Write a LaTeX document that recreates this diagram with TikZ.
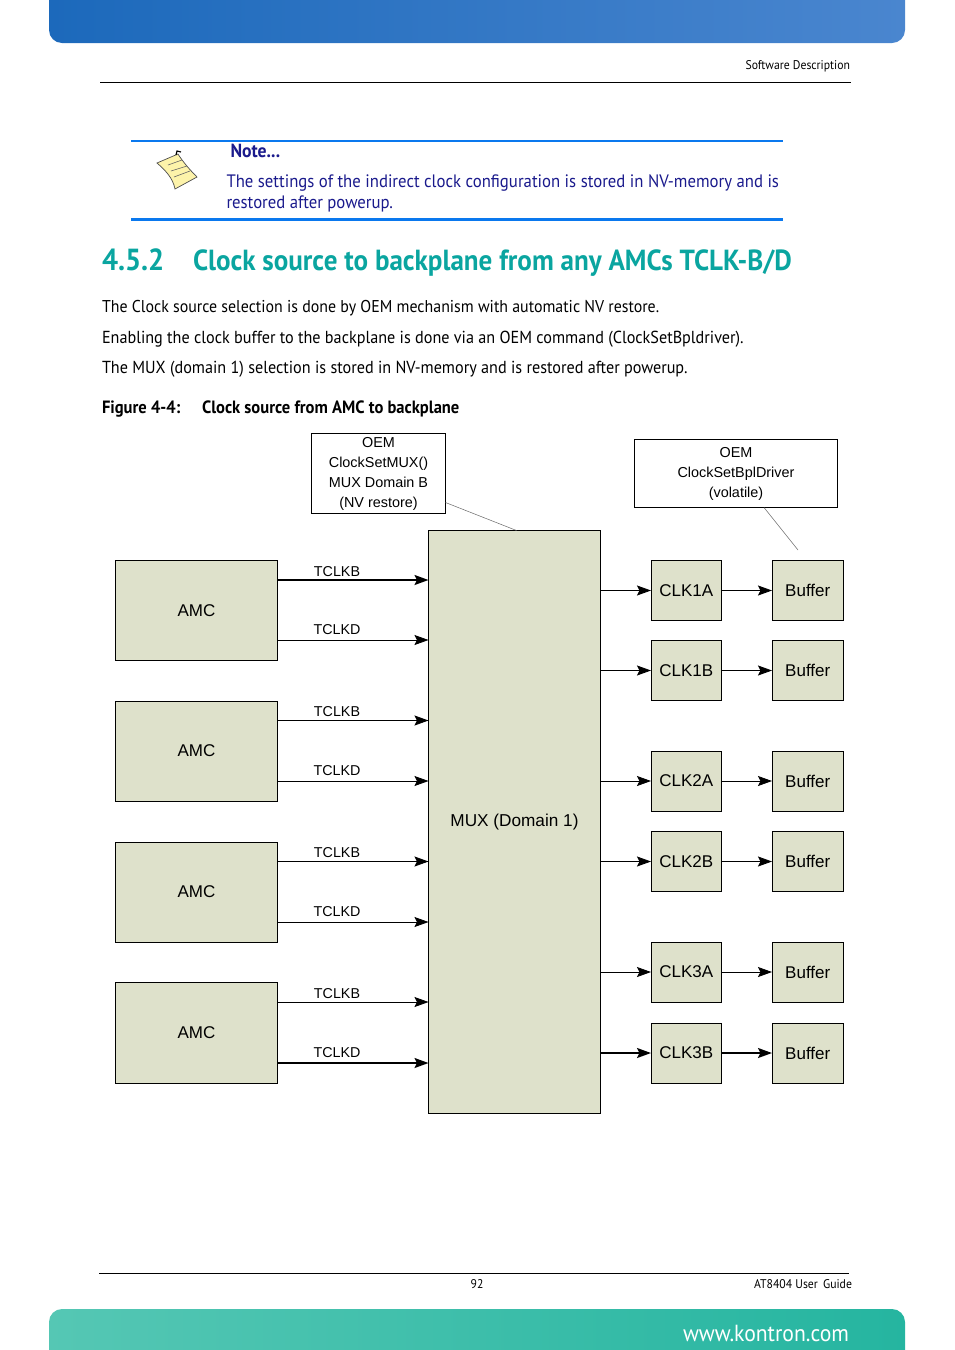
\documentclass[tikz,border=0pt]{standalone}
\usepackage{fontspec}
\setmainfont{PT Sans}[FakeStretch=0.93]
\newfontfamily\arialfont{Liberation Sans}
\usetikzlibrary{arrows.meta}
\usetikzlibrary{positioning}

\definecolor{boxfill}{HTML}{DEE1CB}
\definecolor{notenavy}{HTML}{1A1A8C}
\definecolor{noterule}{HTML}{0A78EE}
\definecolor{headteal}{HTML}{0AA5A0}
\definecolor{topL}{HTML}{1C69BB}
\definecolor{topR}{HTML}{4A86CF}
\definecolor{lowL}{HTML}{55C7B4}
\definecolor{lowR}{HTML}{25B5A0}
\definecolor{notepaper}{HTML}{FDF3AA}

\begin{document}
\begin{tikzpicture}[
    x=1pt, y=-1pt,
    >={Stealth[length=14pt,width=10pt,inset=2.5pt]},
    every node/.style={outer sep=0pt, inner sep=0pt},
    block/.style={rectangle, draw, fill=boxfill, line width=0.8pt, align=center, font=\arialfont\fontsize{17}{20}\selectfont},
    amcbox/.style={block, minimum width=162pt, minimum height=100pt},
    clkbox/.style={block, minimum width=70.5pt, minimum height=60pt},
    bufbox/.style={block, minimum width=71.5pt, minimum height=60pt},
    oembox/.style={rectangle, draw, line width=0.8pt, align=center, font=\arialfont\fontsize{14.4}{20}\selectfont},
    wire/.style={->, line width=0.8pt},
    heavy/.style={->, line width=1.8pt},
    leader/.style={draw=black!60, line width=0.5pt},
    bodytext/.style={anchor=base west, font=\fontsize{17.4}{20}\selectfont},
    notetext/.style={anchor=base west, text=notenavy, font=\fontsize{18}{20}\selectfont},
    figtext/.style={anchor=base west, font=\bfseries\fontsize{17.8}{20}\selectfont},
    smalltext/.style={font=\fontsize{12.6}{14}\selectfont},
    sigB/.style={pos=0.394, above=3.5pt, font=\arialfont\fontsize{14.3}{16}\selectfont},
    sigD/.style={pos=0.394, above=5.5pt, font=\arialfont\fontsize{14.3}{16}\selectfont}
]
\useasboundingbox (0,0) rectangle (954,1350);

% Page
\shade[left color=topL, right color=topR]
    [sharp corners] (49,0) [rounded corners=13pt] -- (49,43) -- (905,43) [sharp corners] -- (905,0) -- cycle;
\shade[left color=lowL, right color=lowR]
    [sharp corners] (49,1350) [rounded corners=13pt] -- (49,1309) -- (905,1309) [sharp corners] -- (905,1350) -- cycle;
\coordinate (headL) at (100,82);
\coordinate (headR) at (851,82);
\coordinate (footL) at (99,1273);
\coordinate (footR) at (849,1273);
\draw[line width=0.8pt] (headL) -- (headR);
\draw[line width=0.8pt] (footL) -- (footR);
\node[smalltext, anchor=base east] (section) at (850,69) {Software Description};
\node[smalltext, anchor=base] (page) at (477,1288) {92};
\node[smalltext, anchor=base east] (guide) at (852,1288) {AT8404 User\, Guide};
\node[anchor=base east, text=white, font=\fontsize{23.3}{24}\selectfont] (web) at (849,1341) {www.kontron.com};

% Note
\coordinate (noteTopL) at (131,141);
\coordinate (noteTopR) at (783,141);
\coordinate (noteLowL) at (131,219);
\coordinate (noteLowR) at (783,219);
\draw[noterule, line width=2pt] (noteTopL) -- (noteTopR);
\draw[noterule, line width=3pt] (noteLowL) -- (noteLowR);
\draw[fill=notepaper, draw=black!70, line width=0.7pt]
    (157,163) -- (178,154) .. controls (183,162) and (190,170) .. (197,177) -- (175,189) .. controls (173,178) and (165,170) .. cycle;
\draw[black!60, line width=0.6pt] (168,165) -- (182,160) (171,171) -- (187,166) (174,177) -- (190,171);
\draw[black, line width=1.2pt] (176,155) -- (177,151) -- (181,152);
\node[anchor=base west, text=notenavy, font=\bfseries\fontsize{19}{20}\selectfont] (noteHead) at (230.5,157) {Note...};
\node[notetext] (noteOne) at (226.5,187) {The settings of the indirect clock configuration is stored in NV-memory and is};
\node[notetext] (noteTwo) at (226.5,208) {restored after powerup.};

% Text
\node[anchor=base west, text=headteal, font=\bfseries\fontsize{30.5}{32}\selectfont] (secNum) at (102,270) {4.5.2};
\node[anchor=base west, text=headteal, font=\bfseries\fontsize{29.1}{32}\selectfont] (secTitle) at (193,270) {Clock source to backplane from any AMCs TCLK-B/D};
\node[bodytext, font=\fontsize{17.1}{20}\selectfont] (paraOne) at (102,312) {The Clock source selection is done by OEM mechanism with automatic NV restore.};
\node[bodytext] (paraTwo) at (102,343) {Enabling the clock buffer to the backplane is done via an OEM command (ClockSetBpldriver).};
\node[bodytext] (paraThree) at (102,373) {The MUX (domain 1) selection is stored in NV-memory and is restored after powerup.};
\node[figtext] (figNum) at (102,413) {Figure 4-4:};
\node[figtext] (figTitle) at (202,413) {Clock source from AMC to backplane};

% Nodes
\node[amcbox, anchor=north west] (amcOne) at (115.5,560.5) {AMC};
\node[amcbox, below=40.5pt of amcOne] (amcTwo) {AMC};
\node[amcbox, below=41pt of amcTwo] (amcThree) {AMC};
\node[amcbox, below=40.5pt of amcThree, minimum height=101pt] (amcFour) {AMC};
\node[block, anchor=north west, minimum width=172pt, minimum height=583pt, font=\arialfont\fontsize{17.2}{20}\selectfont] (mux) at (428.5,530.5) {MUX (Domain 1)};
\node[clkbox, anchor=north west] (clkOneA) at (651,560.5) {CLK1A};
\node[clkbox, below=20pt of clkOneA] (clkOneB) {CLK1B};
\node[clkbox, below=50.5pt of clkOneB] (clkTwoA) {CLK2A};
\node[clkbox, below=20.5pt of clkTwoA] (clkTwoB) {CLK2B};
\node[clkbox, below=50.5pt of clkTwoB] (clkThreeA) {CLK3A};
\node[clkbox, below=21pt of clkThreeA] (clkThreeB) {CLK3B};
\node[bufbox, right=50.5pt of clkOneA] (bufOneA) {Buffer};
\node[bufbox, right=50.5pt of clkOneB] (bufOneB) {Buffer};
\node[bufbox, right=50.5pt of clkTwoA] (bufTwoA) {Buffer};
\node[bufbox, right=50.5pt of clkTwoB] (bufTwoB) {Buffer};
\node[bufbox, right=50.5pt of clkThreeA] (bufThreeA) {Buffer};
\node[bufbox, right=50.5pt of clkThreeB] (bufThreeB) {Buffer};
\node[oembox, anchor=north west, minimum width=134pt, minimum height=80pt] (oemMux) at (311.5,433.5) {OEM\\ClockSetMUX()\\MUX Domain B\\(NV restore)};
\node[oembox, anchor=north west, minimum width=203pt, minimum height=68pt] (oemBuf) at (634.5,439.5) {OEM\\ClockSetBplDriver\\(volatile)};
\coordinate (oemBufEnd) at (798,550);

% Edges
\draw[heavy] ([yshift=-19.5pt]amcOne.north east) -- node[sigB]{TCLKB} ([yshift=-19.5pt]amcOne.north east -| mux.west);
\draw[wire] ([yshift=20.5pt]amcOne.south east) -- node[sigD]{TCLKD} ([yshift=20.5pt]amcOne.south east -| mux.west);
\draw[wire] ([yshift=-19.5pt]amcTwo.north east) -- node[sigB]{TCLKB} ([yshift=-19.5pt]amcTwo.north east -| mux.west);
\draw[wire] ([yshift=20pt]amcTwo.south east) -- node[sigD]{TCLKD} ([yshift=20pt]amcTwo.south east -| mux.west);
\draw[wire] ([yshift=-19.5pt]amcThree.north east) -- node[sigB]{TCLKB} ([yshift=-19.5pt]amcThree.north east -| mux.west);
\draw[wire] ([yshift=20pt]amcThree.south east) -- node[sigD]{TCLKD} ([yshift=20pt]amcThree.south east -| mux.west);
\draw[wire] ([yshift=-19.5pt]amcFour.north east) -- node[sigB]{TCLKB} ([yshift=-19.5pt]amcFour.north east -| mux.west);
\draw[heavy] ([yshift=20.5pt]amcFour.south east) -- node[sigD]{TCLKD} ([yshift=20.5pt]amcFour.south east -| mux.west);
\draw[wire] (mux.east |- clkOneA) -- (clkOneA);
\draw[wire] (mux.east |- clkOneB) -- (clkOneB);
\draw[wire] (mux.east |- clkTwoA) -- (clkTwoA);
\draw[wire] (mux.east |- clkTwoB) -- (clkTwoB);
\draw[wire] (mux.east |- clkThreeA) -- (clkThreeA);
\draw[heavy] (mux.east |- clkThreeB) -- (clkThreeB);
\draw[wire] (clkOneA) -- (bufOneA);
\draw[wire] (clkOneB) -- (bufOneB);
\draw[wire] (clkTwoA) -- (bufTwoA);
\draw[wire] (clkTwoB) -- (bufTwoB);
\draw[wire] (clkThreeA) -- (bufThreeA);
\draw[heavy] (clkThreeB) -- (bufThreeB);
\draw[leader] ([yshift=11pt]oemMux.south east) -- ([xshift=2pt]mux.north);
\draw[leader] ([xshift=28pt]oemBuf.south) -- (oemBufEnd);

\end{tikzpicture}
\end{document}
